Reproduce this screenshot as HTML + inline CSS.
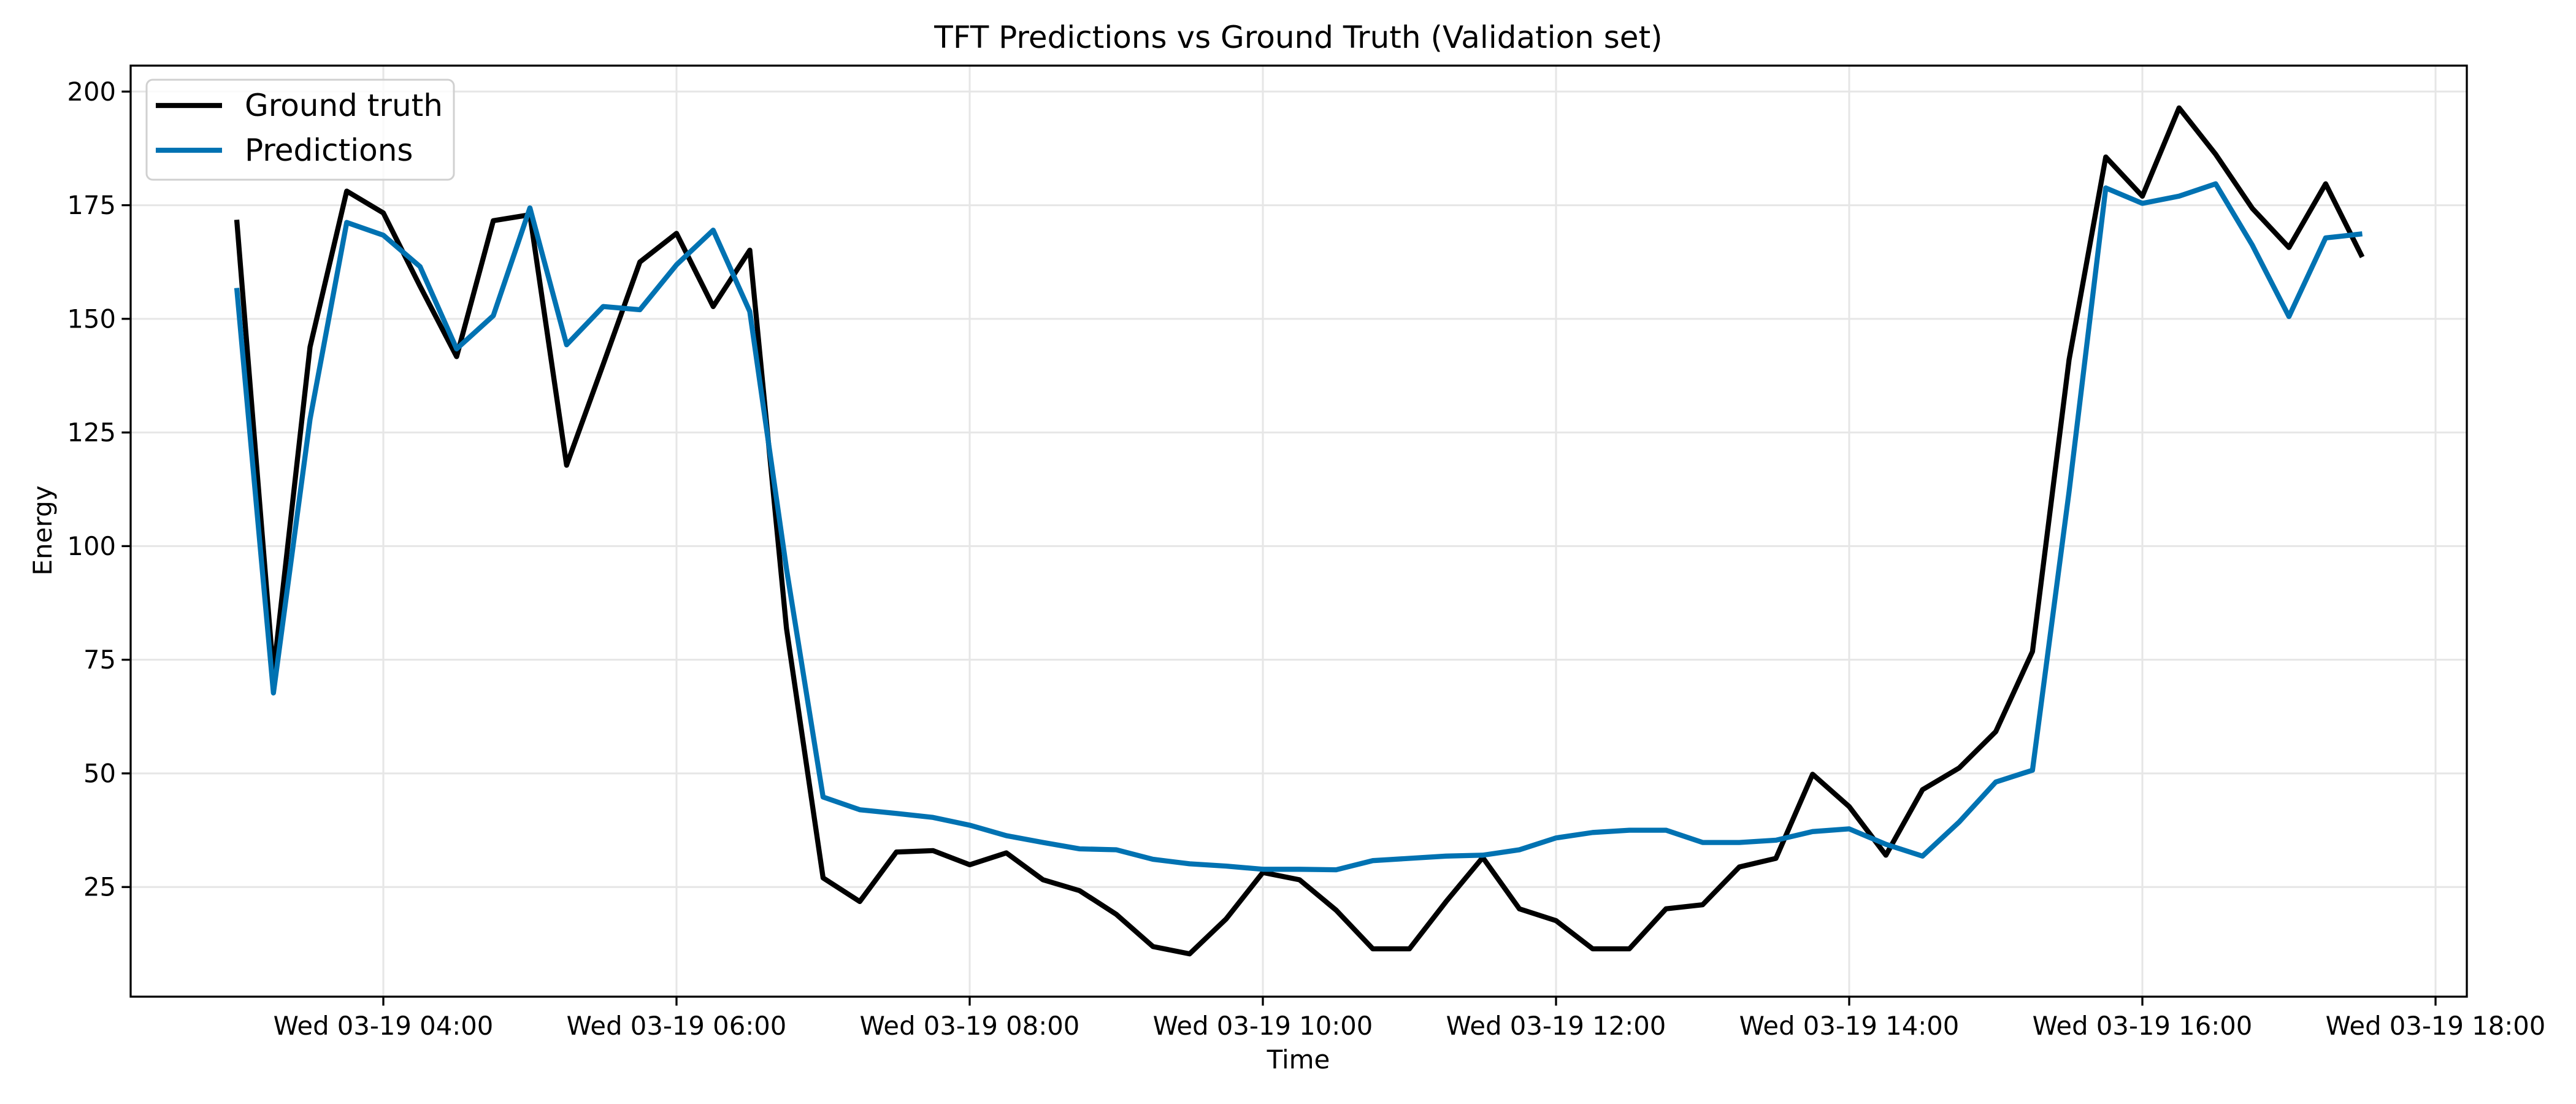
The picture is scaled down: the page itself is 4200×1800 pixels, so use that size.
<!DOCTYPE html>
<html><head><meta charset="utf-8"><style>
html,body{margin:0;padding:0;background:#fff;}
svg{display:block;font-family:"DejaVu Sans","Liberation Sans",sans-serif;}
</style></head><body>
<svg id="chart" width="4200" height="1800" viewBox="0 0 4200 1800" xmlns="http://www.w3.org/2000/svg">
<rect x="0" y="0" width="4200" height="1800" fill="#fff"/>
<text x="2117" y="78" font-size="50" text-anchor="middle">TFT Predictions vs Ground Truth (Validation set)</text>
<text x="2117" y="1742" font-size="42" text-anchor="middle">Time</text>
<text x="84" y="865" font-size="42" text-anchor="middle" transform="rotate(-90 84 865)">Energy</text>
<g id="grid"></g><g id="series"></g><g id="axes"></g>
<g>
<rect x="239" y="130" width="501" height="163" rx="10" fill="#fff" fill-opacity="0.8" stroke="#d0d0d0" stroke-width="3"/>
<line x1="254" y1="172" x2="362" y2="172" stroke="#000" stroke-width="8.3"/>
<text x="399" y="189" font-size="50">Ground truth</text>
<line x1="254" y1="245" x2="362" y2="245" stroke="#0072b2" stroke-width="8.3"/>
<text x="399" y="262" font-size="50">Predictions</text>
</g>
</svg>
<script>
const startHour = 3;
const stepHours = 0.25;
const groundTruth = [171.8,72,143.8,178.1,173.3,157.2,141.7,171.6,172.9,117.8,140,162.5,168.8,152.7,165.1,81.9,
27,21.8,32.7,33,29.9,32.5,26.6,24.2,19,11.9,10.3,18,28.2,26.6,19.9,11.4,11.4,21.8,31.5,20.2,17.6,11.4,11.4,20.2,21.1,29.4,31.3,49.8,42.7,32,46.4,51.2,59.2,76.8,141,
185.6,177,196.4,186.2,174.3,165.7,179.7,163.6];
const predictions = [156.8,67.7,127.9,171.2,168.4,161.5,143.4,150.7,174.4,144.3,152.7,152,161.9,169.5,151.6,95,
44.8,42,41.2,40.3,38.6,36.3,34.8,33.4,33.2,31.1,30.1,29.6,28.9,28.9,28.8,30.8,31.3,31.8,32,33.2,35.8,37,37.5,37.5,34.8,34.8,35.3,37.2,37.8,34.4,31.8,39.3,48.1,50.7,112,
178.8,175.4,177,179.7,166.2,150.5,167.8,168.7];
const yTicks = [25,50,75,100,125,150,175,200];
const xTickHours = [4,6,8,10,12,14,16,18];
const xTickLabels = ["Wed 03-19 04:00","Wed 03-19 06:00","Wed 03-19 08:00","Wed 03-19 10:00","Wed 03-19 12:00","Wed 03-19 14:00","Wed 03-19 16:00","Wed 03-19 18:00"];

const L=213,R=4022,T=107,B=1625;
const xs = h => 625 + (h-4)*239;
const ys = v => 149.3 + (200-v)*7.411;
const NS="http://www.w3.org/2000/svg";
function mk(tag, attrs, parent){const e=document.createElementNS(NS,tag);for(const k in attrs)e.setAttribute(k,attrs[k]);parent.appendChild(e);return e;}
const grid=document.getElementById('grid'), axes=document.getElementById('axes'), series=document.getElementById('series');

yTicks.forEach(v=>{
  const y=ys(v);
  const g=mk('line',{x1:L,x2:R,y1:y,y2:y,stroke:'#e6e6e6','stroke-width':3},grid);
  
  
  const t=mk('line',{x1:L-14.6,x2:L,y1:y,y2:y,stroke:'#000','stroke-width':3.3},axes);
  
  
  const lb=mk('text',{x:L-24,y:y+14.5,'font-size':41.7,'text-anchor':'end'},axes);
  
  
  lb.textContent=String(v);
});
xTickHours.forEach((h,i)=>{
  const x=xs(h);
  const g=mk('line',{x1:x,x2:x,y1:T,y2:B,stroke:'#e6e6e6','stroke-width':3},grid);
  
  
  const t=mk('line',{x1:x,x2:x,y1:B,y2:B+14.6,stroke:'#000','stroke-width':3.3},axes);
  
  
  const lb=mk('text',{x:x,y:B+62,'font-size':41.7,'text-anchor':'middle'},axes);
  
  
  lb.textContent=xTickLabels[i];
});
function line(data,color,name){
  const pts=data.map((v,i)=>xs(startHour+i*stepHours).toFixed(1)+','+ys(v).toFixed(1)).join(' ');
  const p=mk('polyline',{points:pts,fill:'none',stroke:color,'stroke-width':8.3,'stroke-linejoin':'round','stroke-linecap':'butt'},series);
  
  
}
line(groundTruth,'#000','ground-truth-line');
line(predictions,'#0072b2','predictions-line');
const fr=mk('rect',{x:L,y:T,width:R-L,height:B-T,fill:'none',stroke:'#000','stroke-width':3.3},axes);


</script>
</body></html>
